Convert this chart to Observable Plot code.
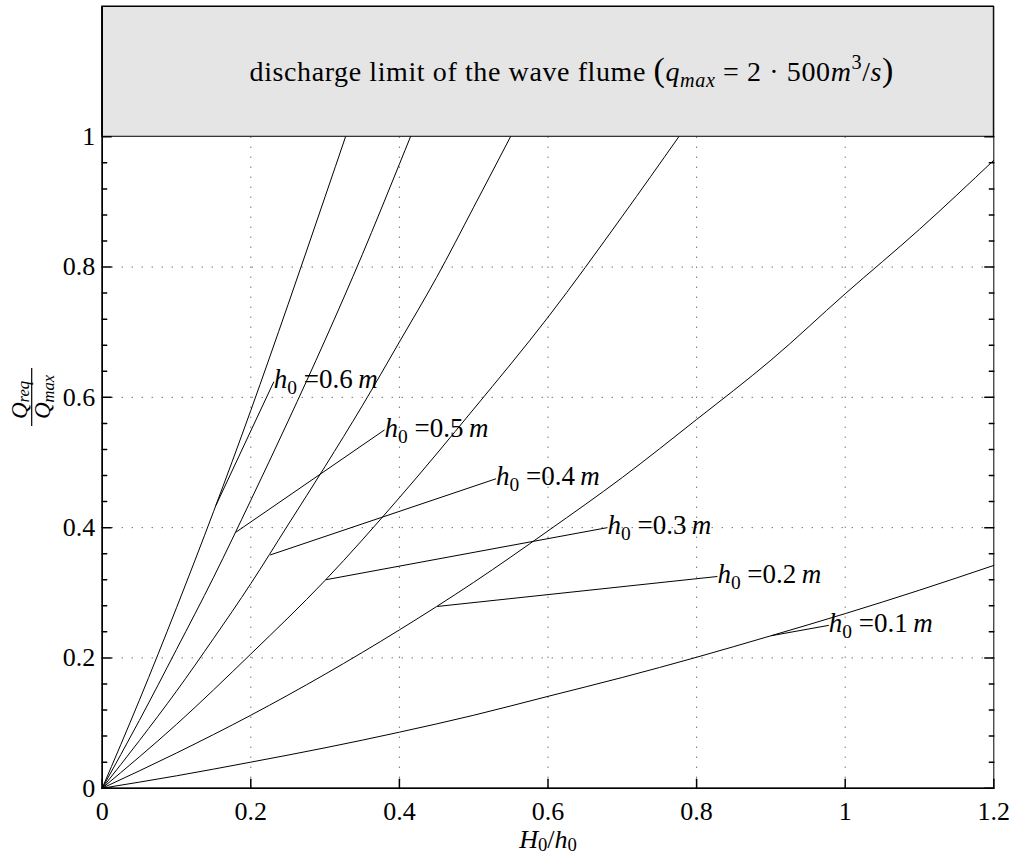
<!DOCTYPE html>
<html><head><meta charset="utf-8">
<script src="https://cdn.jsdelivr.net/npm/d3@7"></script>
<script src="https://cdn.jsdelivr.net/npm/@observablehq/plot@0.6"></script>
<style>body{margin:0;background:#fff} svg{display:block} text{white-space:pre}</style>
</head><body><div id="chart"></div>
<script>
// ---- data ----
const depths = ["0.6", "0.5", "0.4", "0.3", "0.2", "0.1"];   // h0 in m
const h06X = [0, 0.05, 0.1, 0.15, 0.2, 0.25, 0.3, 0.3275];
const h06Y = [0, 0.135, 0.277, 0.425, 0.58, 0.742, 0.908, 1.0];
const h05X = [0, 0.05, 0.1, 0.15, 0.2, 0.25, 0.3, 0.35, 0.4, 0.4149];
const h05Y = [0, 0.104, 0.213, 0.324, 0.442, 0.563, 0.688, 0.819, 0.958, 1.0];
const h04X = [0, 0.05, 0.1, 0.15, 0.2, 0.25, 0.3, 0.35, 0.4, 0.45, 0.5, 0.5495];
const h04Y = [0, 0.073, 0.149, 0.230, 0.314, 0.404, 0.494, 0.587, 0.685, 0.784, 0.892, 1.0];
const h03X = [0, 0.1, 0.2, 0.3, 0.4, 0.5, 0.6, 0.7, 0.776];
const h03Y = [0, 0.098, 0.206, 0.319, 0.446, 0.582, 0.723, 0.878, 1.0];
const h02X = [0, 0.1, 0.2, 0.3, 0.4, 0.5, 0.6, 0.7, 0.8, 0.9, 1.0, 1.1, 1.2];
const h02Y = [0, 0.054, 0.112, 0.175, 0.243, 0.316, 0.395, 0.477, 0.566, 0.657, 0.759, 0.858, 0.964];
const h01X = [0, 0.1, 0.2, 0.3, 0.4, 0.5, 0.6, 0.7, 0.8, 0.9, 1.0, 1.1, 1.2];
const h01Y = [0, 0.019, 0.040, 0.062, 0.086, 0.112, 0.141, 0.170, 0.201, 0.234, 0.268, 0.304, 0.342];

// leader lines: from curve (H0 = 0.09 m) to label
const leaderX1 = [0.153, 0.180, 0.226, 0.301, 0.451, 0.900];
const leaderY1 = [0.434, 0.393, 0.358, 0.320, 0.279, 0.234];
const labelX   = [0.231, 0.380, 0.530, 0.680, 0.828, 0.978];
const labelY   = [0.624, 0.550, 0.475, 0.400, 0.325, 0.250];

const xTicks = [0, 0.2, 0.4, 0.6, 0.8, 1, 1.2];
const yTicks = [0, 0.2, 0.4, 0.6, 0.8, 1];
const yMinor = [0.04, 0.08, 0.12, 0.16, 0.24, 0.28, 0.32, 0.36, 0.44, 0.48, 0.52, 0.56, 0.64, 0.68, 0.72, 0.76, 0.84, 0.88, 0.92, 0.96];
const xGrid = [0.2, 0.4, 0.6, 0.8, 1];
const yGrid = [0.2, 0.4, 0.6, 0.8];
const limitBand = [1, 1.2];       // discharge limit region (Q/Qmax > 1)
const xDomain = [0, 1.2];
const yDomain = [0, 1.2];
const titlePos = [0.632, 1.1];

// ---- build tables ----
const seriesX = [h06X, h05X, h04X, h03X, h02X, h01X];
const seriesY = [h06Y, h05Y, h04Y, h03Y, h02Y, h01Y];
const curves = depths.flatMap((h, k) => seriesX[k].map((x, i) => ({h0: h, x, y: seriesY[k][i]})));
const leaders = depths.map((h, i) => ({h0: h, x1: leaderX1[i], y1: leaderY1[i], x2: labelX[i], y2: labelY[i]}));

const SERIF = "Liberation Serif, DejaVu Serif, serif";
const FS = 26;
const fmt = d => d === 0 ? "0" : String(d);
const tick = {draw(ctx, l) { ctx.moveTo(0, 0); ctx.lineTo(0, -l); }};
const T = {fontFamily: SERIF, fontSize: FS, fill: "#000"};

const chart = Plot.plot({
  width: 1016, height: 859,
  marginLeft: 101.7, marginRight: 22.7, marginTop: 6, marginBottom: 71.3,
  x: {domain: xDomain, axis: null},
  y: {domain: yDomain, axis: null},
  marks: [
    Plot.rect([limitBand], {x1: xDomain[0], x2: xDomain[1], y1: d => d[0], y2: d => d[1], fill: "#e5e5e5", stroke: "#000", strokeWidth: 1}),
    Plot.ruleX(xGrid, {x: d => d, y1: 0, y2: 1, stroke: "#333", strokeWidth: 1, strokeDasharray: "1,9"}),
    Plot.ruleY(yGrid, {y: d => d, x1: xDomain[0], x2: xDomain[1], stroke: "#333", strokeWidth: 1, strokeDasharray: "1,9"}),
    Plot.line(curves, {x: "x", y: "y", z: "h0", stroke: "#000", strokeWidth: 1, curve: "monotone-x"}),
    Plot.link(leaders, {x1: "x1", y1: "y1", x2: "x2", y2: "y2", stroke: "#000", strokeWidth: 1}),
    Plot.frame({stroke: "#000", strokeWidth: 1}),
    Plot.ruleX([0], {stroke: "#000", strokeWidth: 1.6}),
    Plot.ruleY([0], {stroke: "#000", strokeWidth: 1.6}),
    // inward ticks
    Plot.vector(xTicks, {x: d => d, y: 0, length: 9, rotate: 0, anchor: "start", shape: tick, stroke: "#000"}),
    Plot.vector(yTicks, {x: 0, y: d => d, length: 9, rotate: 90, anchor: "start", shape: tick, stroke: "#000"}),
    Plot.vector(yMinor, {x: 0, y: d => d, length: 4.5, rotate: 90, anchor: "start", shape: tick, stroke: "#000"}),
    Plot.vector(yTicks, {x: 1.2, y: d => d, length: 9, rotate: -90, anchor: "start", shape: tick, stroke: "#000"}),
    Plot.vector(yMinor, {x: 1.2, y: d => d, length: 4.5, rotate: -90, anchor: "start", shape: tick, stroke: "#000"}),
    // tick labels
    Plot.text(xTicks, {x: d => d, y: 0, text: fmt, dy: 23, lineAnchor: "middle", ...T}),
    Plot.text(yTicks, {x: 0, y: d => d, text: fmt, dx: -7, textAnchor: "end", lineAnchor: "middle", ...T}),
    // curve labels (placeholder text replaced by rich text below)
    Plot.text(leaders, {x: "x2", y: "y2", text: d => "\u00A7L" + d.h0, textAnchor: "start", lineAnchor: "middle", dx: 0, dy: -2, ...T, fontSize: 27}),
    // title in limit band
    Plot.text([titlePos], {x: d => d[0], y: d => d[1], text: () => "\u00A7T", textAnchor: "middle", lineAnchor: "middle", ...T, fontSize: 28}),
    // x axis label
    Plot.text([0], {frameAnchor: "bottom", dy: 51, lineAnchor: "middle", text: () => "\u00A7X", ...T})
  ]
});
chart.setAttribute("font-family", SERIF);

function rich(el, parts, base, subShift = 0.22) {
  const sel = d3.select(el);
  sel.text(null);
  let shift = 0;
  for (const p of parts) {
    const target = p.sub ? base * subShift : p.sup ? -base * 0.4 : 0;
    const ts = sel.append("tspan").text(p.t);
    if (target - shift !== 0) ts.attr("dy", target - shift);
    shift = target;
    if (p.it) ts.attr("font-style", "italic");
    if (p.sub || p.sup) ts.attr("font-size", base * 0.72);
    if (p.size) ts.attr("font-size", p.size);
  }
}

const svg = d3.select(chart);
svg.selectAll("text").each(function() {
  const s = this.textContent;
  if (s.startsWith("\u00A7L")) {
    rich(this, [{t: "h", it: true}, {t: "0", sub: true}, {t: " =" + s.slice(2)}, {t: "\u2009"}, {t: "m", it: true}], 27);
  } else if (s === "\u00A7T") {
    d3.select(this).attr("letter-spacing", 0.6);
    rich(this, [
      {t: "discharge limit of the wave flume "},
      {t: "(", size: 34},
      {t: "q", it: true}, {t: "max", it: true, sub: true},
      {t: " = 2 \u00B7 500"},
      {t: "m", it: true}, {t: "3", sup: true},
      {t: "/"}, {t: "s", it: true},
      {t: ")", size: 34}
    ], 28);
  } else if (s === "\u00A7X") {
    rich(this, [{t: "H", it: true}, {t: "0", sub: true}, {t: "/"}, {t: "h", it: true}, {t: "0", sub: true}], FS, 0.15);
  }
});

// y axis label: Q_req / Q_max fraction, rotated
const YF = 23;
const yl = svg.append("g").attr("transform", "translate(31.7,397) rotate(-90)")
  .attr("font-family", SERIF).attr("font-size", YF).attr("fill", "#000");
const num = yl.append("text").attr("x", -3).attr("y", -5).attr("text-anchor", "middle").node();
rich(num, [{t: "Q", it: true}, {t: "req", it: true, sub: true}], YF, 0.1);
yl.append("line").attr("x1", -29).attr("x2", 29).attr("y1", 0).attr("y2", 0).attr("stroke", "#000").attr("stroke-width", 1.2);
const den = yl.append("text").attr("x", 0).attr("y", 18).attr("text-anchor", "middle").node();
rich(den, [{t: "Q", it: true}, {t: "max", it: true, sub: true}], YF, 0.18);

document.getElementById("chart").appendChild(chart);
</script>
</body></html>
